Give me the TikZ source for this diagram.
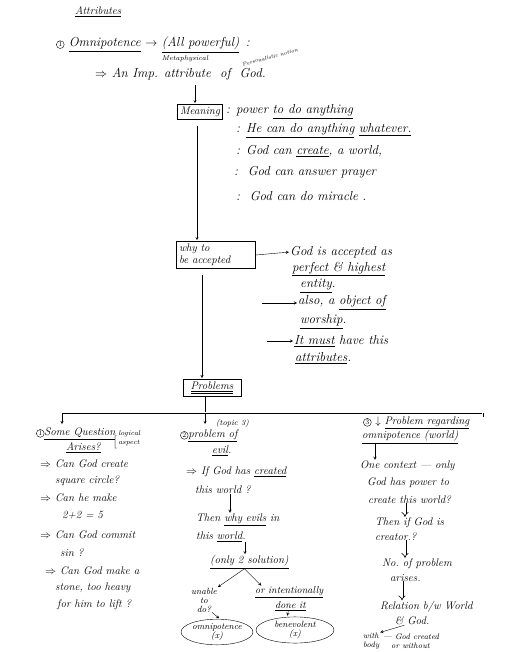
\documentclass[tikz,border=0pt]{standalone}
\usepackage{amsmath}
\usepackage{amssymb}
\usetikzlibrary{shapes.geometric,arrows.meta}

\newcommand{\circnum}[1]{\tikz[baseline=(cn.base)]\node[circle,draw,inner sep=0.6pt,font=\scriptsize\upshape](cn){#1};}

\tikzset{
  note/.style={anchor=west, inner sep=0pt, font=\fontsize{13}{15}\selectfont\itshape},
  col/.style={anchor=west, inner sep=0pt, font=\fontsize{11}{13}\selectfont\itshape},
  small/.style={inner sep=0pt, font=\fontsize{7}{8}\selectfont\itshape},
  box/.style={draw, thick, inner sep=2.5pt, font=\fontsize{11}{12}\selectfont\itshape},
  oval/.style={ellipse, draw, inner sep=0.5pt, align=center, font=\fontsize{9}{9}\selectfont\itshape},
  dbl/.style={double, double distance=1.8pt, line width=0.6pt, shorten >=0pt, -{Implies}}
}

\begin{document}
\begin{tikzpicture}[x=1pt,y=-1pt,>=stealth,shorten >=1pt]
  \useasboundingbox (0,0) rectangle (523,652);

  % Nodes
  \node[note, font=\fontsize{11}{13}\selectfont\itshape] (attr) at (75,12) {\underline{Attributes}};
  \node[note] (omni) at (56,45) {\circnum{1} \underline{Omnipotence} $\to$ \underline{(All powerful)}\, :};
  \node[small] (meta) at (185,59) {Metaphysical};
  \node[small, rotate=15, font=\fontsize{5.5}{6}\selectfont\itshape] (pers) at (270,57) {Personalistic notion};
  \node[note] (imp) at (95,74) {$\Rightarrow$ An Imp. attribute \ of \ God.};

  \node[box] (meaning) at (200,112) {Meaning};
  \node[note] (m1) at (226,112) {: power \underline{to do anything}};
  \node[note] (m2) at (236,131) {: \underline{He can do anything} \underline{whatever.}};
  \node[note] (m3) at (236,151) {: God can \underline{create}, a world,};
  \node[note] (m4) at (234,172) {:\; God can answer prayer};
  \node[note] (m5) at (236,196) {:\; God can do miracle .};

  \node[box, align=left, text width=74pt] (why) at (216,255) {why to\\ be accepted};
  \node[note] (acc1) at (290,252) {God is accepted as};
  \node[note] (acc2) at (292,269) {\underline{perfect \& highest}};
  \node[note] (acc3) at (300,286) {\underline{entity}.};
  \node[note] (acc4) at (298,303) {also, a \underline{object of}};
  \node[note] (acc5) at (300,322) {\underline{worship}.};
  \node[note] (acc6) at (294,341) {\underline{It must} have this};
  \node[note] (acc7) at (295,358) {\underline{attributes}.};
  \coordinate (s2) at (262,303);
  \coordinate (s3) at (267,341);

  \node[box, minimum width=58pt] (prob) at (212,388) {\underline{\underline{Problems}}};
  \coordinate (fork) at (205,413);
  \coordinate (bl) at (62,413);
  \coordinate (br) at (483,413);

  % column 1
  \node[col] (q1a) at (36,434) {\circnum{1}\underline{Some Question}};
  \node[col] (q1b) at (66,448) {\underline{Arises?}};
  \node[small, anchor=west] (q1c) at (113,440) {$\Big[$\,\shortstack[l]{logical\\aspect}};
  \node[col] (c1a) at (40,464) {$\Rightarrow$ Can God create};
  \node[col] (c1b) at (55,481) {square circle?};
  \node[col] (c1c) at (40,498) {$\Rightarrow$ Can he make};
  \node[col] (c1d) at (62,515) {2+2 = 5};
  \node[col] (c1e) at (40,535) {$\Rightarrow$ Can God commit};
  \node[col] (c1f) at (60,553) {sin ?};
  \node[col] (c1g) at (45,571) {$\Rightarrow$ Can God make a};
  \node[col] (c1h) at (55,588) {stone, too heavy};
  \node[col] (c1i) at (57,605) {for him to lift ?};

  % column 2
  \node[small, anchor=west, font=\fontsize{8}{9}\selectfont\itshape] (topic) at (216,423) {(topic 3)};
  \node[col] (e0) at (180,436) {\circnum{2}\underline{problem of}};
  \node[col] (e0b) at (212,451) {\underline{evil}.};
  \node[col] (e1) at (186,472) {$\Rightarrow$ If God has \underline{created}};
  \node[col] (e1b) at (195,490) {this world ?};
  \node[col] (e2) at (196,520) {Then \underline{why evils} in};
  \node[col] (e2b) at (196,537) {this \underline{world}.};
  \node[col] (sol) at (210,562) {\underline{(only 2 solution)}};
  \node[small, align=center, font=\fontsize{9}{9}\selectfont\itshape] (un) at (204,600) {unable\\to\\do?};
  \node[col, font=\fontsize{10}{12}\selectfont\itshape] (int) at (255,592) {\underline{or intentionally}};
  \node[col, font=\fontsize{10}{12}\selectfont\itshape] (done) at (275,606) {\underline{done it}};
  \node[oval, minimum width=68pt, minimum height=20pt] (om) at (217,632) {omnipotence\\(x)};
  \node[oval, minimum width=78pt, minimum height=24pt] (ben) at (295,630) {benevolent\\(x)};
  \coordinate (x2a) at (230,0);
  \coordinate (x2b) at (245,0);

  % column 3
  \node[col] (p3) at (363,423) {\circnum{3} $\downarrow$ \underline{Problem regarding}};
  \node[col] (p3b) at (362,437) {\underline{omnipotence (world)}};
  \node[col] (oc) at (360,466) {One context --- only};
  \node[col] (oc2) at (367,483) {God has power to};
  \node[col] (oc3) at (368,500) {create this world?};
  \node[col] (th) at (375,523) {Then if God is};
  \node[col] (th2) at (375,537) {creator.?};
  \node[col] (no) at (382,564) {No.\ of problem};
  \node[col] (no2) at (390,578) {arises.};
  \node[col] (rel) at (380,607) {Relation b/w World};
  \node[col] (rel2) at (395,621) {\& God.};
  \node[small, anchor=west, align=left, font=\fontsize{8}{9}\selectfont\itshape] (wb) at (363,641) {with\\body};
  \node[small, anchor=west, align=left, font=\fontsize{8}{9}\selectfont\itshape] (wc) at (383,641) {--- God created\\\quad or without};
  \coordinate (x3a) at (375,0);
  \coordinate (x3b) at (405,0);

  % Edges
  \draw[->] ([xshift=-5pt,yshift=-5pt]meaning.north |- imp.south) -- ([xshift=-5pt]meaning.north);
  \draw[->] ([xshift=-3pt,yshift=-6pt]meaning.south) -- ([xshift=-19pt]why.north);
  \draw[->] (why.east) -- (acc1.west);
  \draw[->] (s2) -- (acc4.west);
  \draw[->] (s3) -- (acc6.west);
  \draw[->] ([xshift=-14pt,yshift=-6pt]why.south) -- ([xshift=-10pt]prob.north);
  \draw (prob.south -| fork) -- (fork);
  \draw (bl) -- (br);
  \draw[->] (bl) -- ++(0,12);
  \draw[->] (fork) -- ++(0,12);
  \draw (br) -- ++(0,5);

  \draw[->] (e1b.south -| x2a) -- (e2.north -| x2a);
  \draw[->] (e2b.south -| x2b) -- (sol.north -| x2b);
  \draw[->] ([xshift=-5pt]sol.south) -- (un.north east);
  \draw[->] ([xshift=-5pt]sol.south) -- ([xshift=7pt]int.north west);
  \draw[->] ([xshift=8pt]un.south) -- ([xshift=3pt]om.north);
  \draw[->] ([xshift=-2pt]done.south) -- ([xshift=-8pt]ben.north);

  \draw[->] (p3b.south -| x3a) -- (oc.north -| x3a);
  \draw[dbl] ([yshift=1pt]oc3.south -| x3b) -- ([yshift=1pt]th.north -| x3b);
  \draw[dbl] ([yshift=1pt]th2.south -| x3b) -- ([yshift=1pt]no.north -| x3b);
  \draw[dbl] ([xshift=-3pt,yshift=1pt]no2.south -| x3b) -- ([xshift=-3pt,yshift=1pt]rel.north -| x3b);
  \draw[->] ([xshift=-8pt]rel2.south) -- ([xshift=8pt]wb.north);
\end{tikzpicture}
\end{document}
